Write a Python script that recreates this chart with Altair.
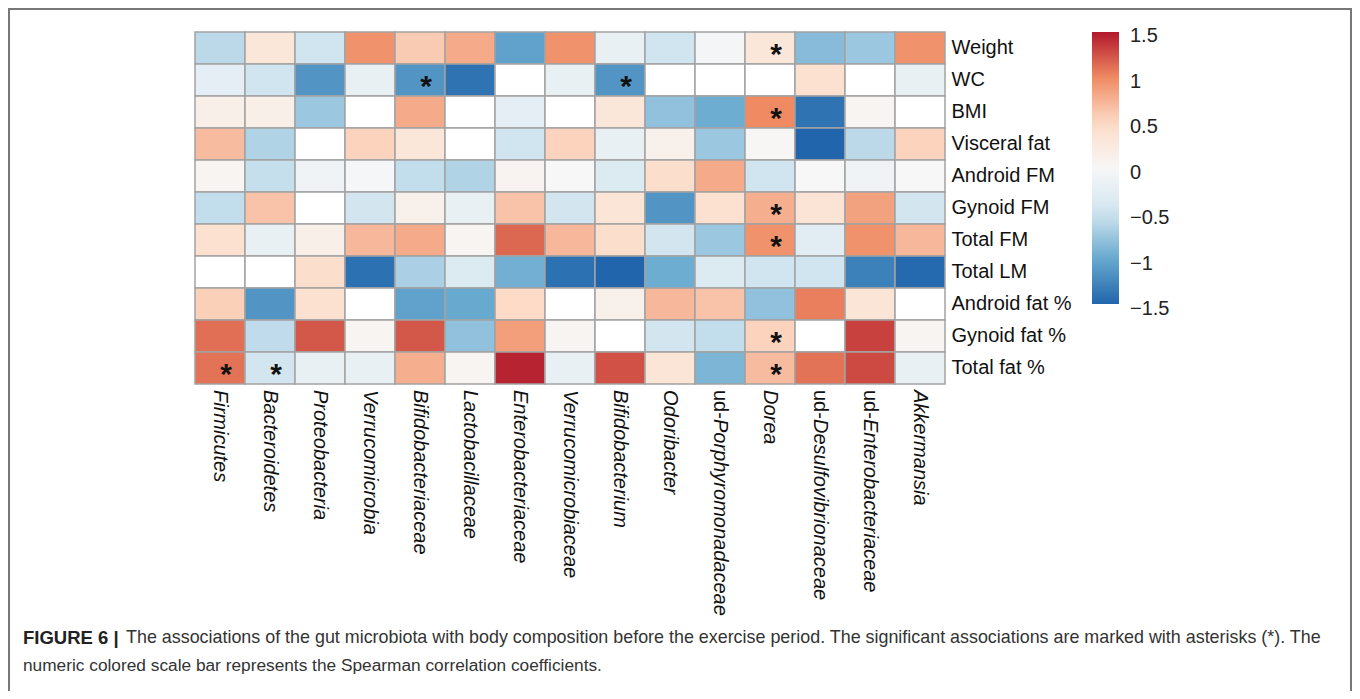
import altair as alt
import pandas as pd
import numpy as np

taxa = ["Firmicutes", "Bacteroidetes", "Proteobacteria", "Verrucomicrobia",
        "Bifidobacteriaceae", "Lactobacillaceae", "Enterobacteriaceae",
        "Verrucomicrobiaceae", "Bifidobacterium", "Odoribacter",
        "ud-Porphyromonadaceae", "Dorea", "ud-Desulfovibrionaceae",
        "ud-Enterobacteriaceae", "Akkermansia"]

measures = ["Weight", "WC", "BMI", "Visceral fat", "Android FM", "Gynoid FM",
            "Total FM", "Total LM", "Android fat %", "Gynoid fat %", "Total fat %"]

N = None  # blank (white) cells
r_weight = [-0.6, 0.3, -0.5, 0.95, 0.6, 0.8, -1.05, 0.95, -0.2, -0.5, -0.05, 0.3, -0.85, -0.75, 0.95]
r_wc = [-0.25, -0.5, -1.15, -0.2, -1.15, -1.4, N, -0.2, -1.15, N, N, N, 0.4, N, -0.2]
r_bmi = [0.15, 0.15, -0.75, N, 0.8, N, -0.25, N, 0.3, -0.8, -0.97, 1.0, -1.4, 0.05, N]
r_visceral = [0.7, -0.65, N, 0.55, 0.3, N, -0.5, 0.55, -0.2, 0.12, -0.75, 0.02, -1.5, -0.6, 0.55]
r_android_fm = [0.05, -0.55, -0.1, -0.03, -0.57, -0.65, 0.07, 0.0, -0.35, 0.45, 0.8, -0.5, 0.0, -0.1, 0.0]
r_gynoid_fm = [-0.57, 0.65, N, -0.47, 0.12, -0.2, 0.65, -0.47, 0.33, -1.15, 0.4, 0.78, 0.35, 0.85, -0.47]
r_total_fm = [0.4, -0.2, 0.15, 0.72, 0.8, 0.05, 1.15, 0.72, 0.45, -0.47, -0.75, 0.95, -0.28, 0.95, 0.72]
r_total_lm = [N, N, 0.45, -1.42, -0.68, -0.35, -0.95, -1.42, -1.5, -0.97, -0.35, -0.5, -0.5, -1.3, -1.47]
r_android_pct = [0.57, -1.15, 0.4, N, -1.05, -1.0, 0.5, N, 0.12, 0.72, 0.65, -0.8, 1.05, 0.33, N]
r_gynoid_pct = [1.12, -0.58, 1.22, 0.05, 1.22, -0.8, 0.87, 0.05, N, -0.47, -0.57, 0.55, N, 1.32, 0.05]
r_total_pct = [1.1, -0.47, -0.2, -0.2, 0.78, 0.05, 1.45, -0.2, 1.25, 0.33, -0.9, 0.7, 1.1, 1.28, -0.2]

rows = [r_weight, r_wc, r_bmi, r_visceral, r_android_fm, r_gynoid_fm,
        r_total_fm, r_total_lm, r_android_pct, r_gynoid_pct, r_total_pct]

significant = [("Weight", "Dorea"), ("WC", "Bifidobacteriaceae"), ("WC", "Bifidobacterium"),
               ("BMI", "Dorea"), ("Gynoid FM", "Dorea"), ("Total FM", "Dorea"),
               ("Gynoid fat %", "Dorea"), ("Total fat %", "Firmicutes"),
               ("Total fat %", "Bacteroidetes"), ("Total fat %", "Dorea")]

legend_ticks = [-1.5, -1, -0.5, 0, 0.5, 1, 1.5]
legend_labels = ["\u22121.5", "\u22121", "\u22120.5", "0", "0.5", "1", "1.5"]
palette = ["#2166ac", "#67a9cf", "#d1e5f0", "#f7f7f7", "#fddbc7", "#ef8a62", "#b2182b"]

caption_bold = "FIGURE 6 |"
caption_line1 = ("The associations of the gut microbiota with body composition before the exercise period. "
                 "The significant associations are marked with asterisks (*). The")
caption_line2 = "numeric colored scale bar represents the Spearman correlation coefficients."

records = []
for m, vals in zip(measures, rows):
    for t, v in zip(taxa, vals):
        records.append({"measure": m, "taxon": t,
                        "r": np.nan if v is None else v,
                        "sig": "*" if (m, t) in significant else ""})
df = pd.DataFrame(records)

# taxon labels: "ud-" prefix upright, the rest italic
lab = pd.DataFrame({
    "taxon": taxa,
    "prefix": ["ud-" if t.startswith("ud-") else "" for t in taxa],
    "name": [t[3:] if t.startswith("ud-") else t for t in taxa],
})

FONT = "Liberation Sans"
LFS = 20

x_sc = alt.Scale(paddingInner=0, paddingOuter=0)
x_enc = alt.X("taxon:N", sort=taxa, scale=x_sc, axis=None)
y_axis = alt.Axis(title=None, orient="right", labelFont=FONT, labelFontSize=LFS,
                  labelColor="#111111", ticks=False, domain=False, labelPadding=6,
                  labelLimit=400)
y_enc = alt.Y("measure:N", sort=measures,
              scale=alt.Scale(paddingInner=0, paddingOuter=0), axis=y_axis)

base = alt.Chart(df)

heat = base.transform_calculate(
    rfill="isValid(datum.r) ? datum.r : 0"
).mark_rect(stroke="#a3a3a3", strokeWidth=1.5).encode(
    x=x_enc, y=y_enc,
    color=alt.condition(
        "!isValid(datum.r)",
        alt.value("#ffffff"),
        alt.Color("rfill:Q",
                  scale=alt.Scale(domain=legend_ticks, range=palette, interpolate="rgb"),
                  legend=alt.Legend(orient="none", legendX=897, legendY=0, title=None,
                                    direction="vertical", gradientLength=272,
                                    gradientThickness=27, gradientStrokeWidth=0,
                                    values=legend_ticks, labelExpr="''", padding=0))
    ),
    tooltip=["measure", "taxon", "r"]
)

stars = base.transform_filter("datum.sig == '*'").mark_text(
    fontSize=30, fontWeight="bold", font=FONT, dx=6, dy=7, color="#111111"
).encode(x=x_enc, y=y_enc, text="sig:N")

# x labels drawn as rotated text on the band scale
X_TOP = 358
xl_pre = alt.Chart(lab).transform_filter("datum.prefix != ''").mark_text(
    angle=90, align="left", baseline="middle", font=FONT, fontSize=LFS, color="#111111"
).encode(x=alt.X("taxon:N", sort=taxa, scale=x_sc, axis=None), y=alt.value(X_TOP), text="prefix:N")
xl_plain = alt.Chart(lab).transform_filter("datum.prefix == ''").mark_text(
    angle=90, align="left", baseline="middle", font=FONT, fontSize=LFS, fontStyle="italic",
    color="#111111"
).encode(x=alt.X("taxon:N", sort=taxa, scale=x_sc, axis=None), y=alt.value(X_TOP), text="name:N")
xl_rest = alt.Chart(lab).transform_filter("datum.prefix != ''").mark_text(
    angle=90, align="left", baseline="middle", font=FONT, fontSize=LFS, fontStyle="italic",
    color="#111111"
).encode(x=alt.X("taxon:N", sort=taxa, scale=x_sc, axis=None), y=alt.value(X_TOP + 29), text="name:N")

# colour bar labels
leg_lab = alt.Chart(pd.DataFrame({"v": legend_ticks, "t": legend_labels})).mark_text(
    align="left", baseline="middle", font=FONT, fontSize=LFS, color="#222222"
).encode(
    y=alt.Y("v:Q", scale=alt.Scale(domain=[-1.5, 1.5], range=[277, 4]), axis=None),
    x=alt.value(935), text="t:N")

one = pd.DataFrame({"k": [0]})
frame = alt.Chart(one).mark_rect(fillOpacity=0, stroke="#777777", strokeWidth=2).encode(
    x=alt.value(-186), x2=alt.value(1156), y=alt.value(-23), y2=alt.value(900))

cap_b = alt.Chart(pd.DataFrame({"t": [caption_bold]})).mark_text(
    align="left", baseline="middle", font=FONT, fontSize=18.5, fontWeight="bold", color="#222222"
).encode(text="t:N", x=alt.value(-172), y=alt.value(606))
cap_1 = alt.Chart(pd.DataFrame({"t": [caption_line1]})).mark_text(
    align="left", baseline="middle", font=FONT, fontSize=17.9, color="#333333"
).encode(text="t:N", x=alt.value(-69), y=alt.value(606))
cap_2 = alt.Chart(pd.DataFrame({"t": [caption_line2]})).mark_text(
    align="left", baseline="middle", font=FONT, fontSize=17.3, color="#333333"
).encode(text="t:N", x=alt.value(-172), y=alt.value(634))

main = alt.layer(frame, heat, stars, xl_pre, xl_plain, xl_rest, cap_b, cap_1, cap_2)

chart = alt.layer(main, leg_lab).resolve_scale(
    y="independent"
).properties(
    width=750, height=352,
    autosize=alt.AutoSizeParams(type="none"),
    padding={"left": 187, "top": 24, "right": 407, "bottom": 307},
    background="white"
).configure_view(strokeWidth=0)

chart.save("out.html", embed_options={"renderer": "svg", "actions": False})
